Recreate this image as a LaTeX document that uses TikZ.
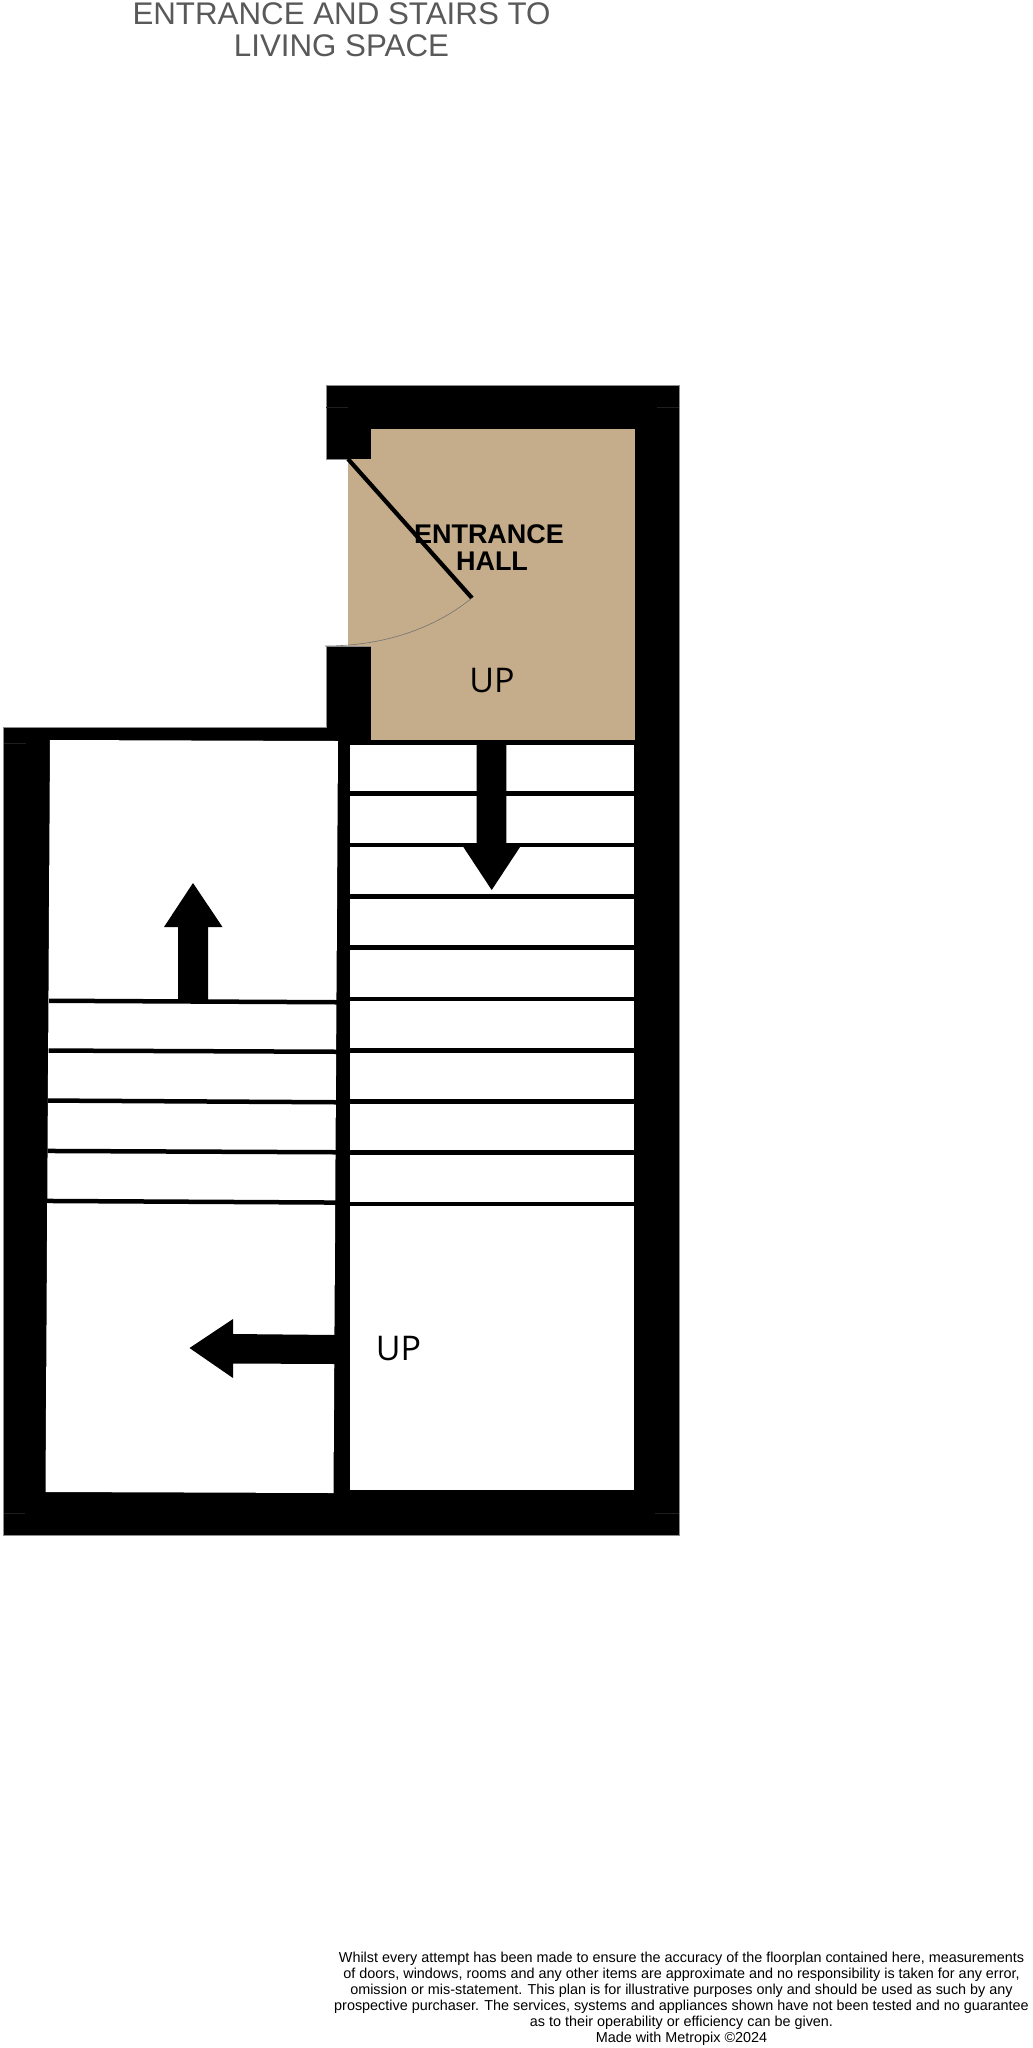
\documentclass[tikz,border=0pt]{standalone}
\usepackage{fontspec}
\setmainfont{Liberation Sans}
\newfontfamily\upfont{Open Sans}
\definecolor{tan}{HTML}{C5AC8A}
\definecolor{titlegrey}{HTML}{595959}
\tikzset{
  x=1pt,y=-1pt,
  wall/.style={fill=black,draw=black!45,line width=0.5pt},
  solid/.style={fill=black,draw=none},
  tread/.style={fill=black,draw=none},
  joint/.style={draw=black!88,line width=0.3pt},
  lbl/.style={inner sep=0pt,outer sep=0pt,align=center},
}
\begin{document}
\begin{tikzpicture}
\useasboundingbox (0,0) rectangle (1033,2048);
\fill[white] (0,0) rectangle (1033,2048);
% outer shell
\draw[wall] (326,385) -- (679.5,385) -- (679.5,1535) -- (3.5,1535) -- (3.5,727) -- (326,727) -- (326,646) -- (371,646) -- (371,459) -- (326,459) -- cycle;
% entrance hall
\fill[tan] (371,429) -- (635,429) -- (635,740) -- (371,740) -- cycle;
\fill[tan] (348,459) rectangle (371.3,646);
% left room
\fill[white] (50,740) -- (338,741) -- (333.5,1493) -- (45.5,1492) -- cycle;
% right room
\fill[white] (349.5,745) rectangle (634,1490);
% joints
\draw[joint] (326,407) -- (348,407) (657,407) -- (679,407) (3.5,743) -- (26,743) (3.5,1513) -- (25,1513) (655,1513) -- (679,1513);
% left treads
\fill[tread] (49,998.5) -- (337.5,1000) -- (337.5,1004.5) -- (49,1003) -- cycle;
\fill[tread] (48.5,1048.3) -- (337.5,1049.5) -- (337.5,1054) -- (48.5,1052.8) -- cycle;
\fill[tread] (48,1098.3) -- (336.5,1100) -- (336.5,1104.5) -- (48,1102.8) -- cycle;
\fill[tread] (47.5,1148.7) -- (336,1150) -- (336,1154.5) -- (47.5,1153.2) -- cycle;
\fill[tread] (47,1198.7) -- (336,1200.3) -- (336,1204.8) -- (47,1203.2) -- cycle;
% right treads
\foreach \y in {791.3,842.7,894,945.3,996.7,1048,1099,1150.3,1201.7}
  \fill[tread] (349,\y) rectangle (634.5,\y+4.6);
% arrows
\fill[solid] (193,883) -- (222.5,927) -- (208,927) -- (208,1000) -- (178,1000) -- (178,927) -- (164,927) -- cycle;
\fill[solid] (189.5,1348) -- (233,1319) -- (233,1334) -- (336,1335) -- (336,1364) -- (233,1363.5) -- (233,1378) -- cycle;
\fill[solid] (476.7,740) -- (506.3,740) -- (506.3,846) -- (520.7,846) -- (491.7,890) -- (462.7,846) -- (476.7,846) -- cycle;
% door
\coordinate (hinge) at (348,459);
\coordinate (leaf) at (472,598);
\coordinate (strike) at (325,646);
\draw[line width=4.2pt,line cap=butt] (hinge) -- (leaf);
\draw[black!55,line width=0.6pt] (leaf) .. controls (435,628) and (385,646) .. (strike);
% texts
\node[lbl,text=titlegrey,font=\fontsize{31.3}{32}\selectfont] (title) at (341.5,29.5) {ENTRANCE AND STAIRS TO\\LIVING SPACE};
\node[lbl,font=\bfseries\fontsize{27}{27}\selectfont] (hall) at (489,548) {ENTRANCE\\\hspace*{6pt}HALL};
\node[lbl,font=\upfont\fontsize{34}{34}\selectfont] (up1) at (492,681) {UP};
\node[lbl,font=\upfont\fontsize{34}{34}\selectfont] (up2) at (398.5,1349) {UP};
\node[lbl,font=\fontsize{14.4}{16}\selectfont] (note) at (681.5,1999) {Whilst every attempt has been made to ensure the accuracy of the floorplan contained here, measurements\\of doors, windows, rooms and any other items are approximate and no responsibility is taken for any error,\\omission or mis-statement. This plan is for illustrative purposes only and should be used as such by any\\prospective purchaser. The services, systems and appliances shown have not been tested and no guarantee\\as to their operability or efficiency can be given.\\Made with Metropix \textcopyright 2024};
\end{tikzpicture}
\end{document}
